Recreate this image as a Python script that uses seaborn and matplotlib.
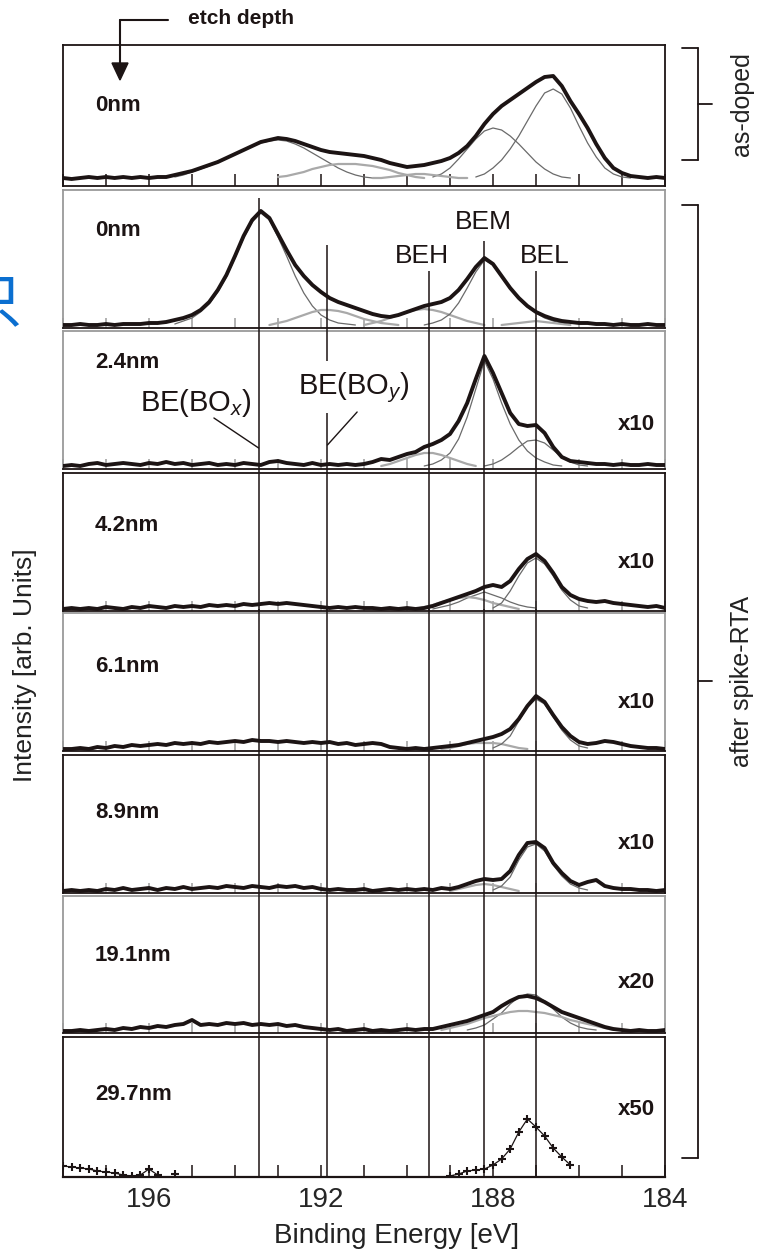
import numpy as np
import pandas as pd
import matplotlib
matplotlib.use("Agg")
import matplotlib.pyplot as plt
from matplotlib.lines import Line2D
from matplotlib.ticker import MultipleLocator
import seaborn as sns

W, H = 763, 1253
nan = np.nan

# binding-energy grid shared by the spectra, 198 -> 184 eV in 0.2 eV steps
energy = np.round(np.arange(198.0, 183.9, -0.2), 1)

depth_labels = ["0nm", "0nm", "2.4nm", "4.2nm", "6.1nm", "8.9nm", "19.1nm", "29.7nm"]
scale_labels = ["", "", "x10", "x10", "x10", "x10", "x20", "x50"]

# measured envelopes (intensity in panel units, one value per grid point)
spec_asdoped = [8, 7, 8, 9, 8, 9, 8, 9, 8, 9,
                8, 9, 9, 11, 13, 15, 18, 21, 24, 28,
                32, 36, 40, 44, 46, 48, 47, 45, 42, 39,
                36, 34, 33, 32, 31, 30, 28, 26, 23, 21,
                19, 20, 21, 23, 25, 28, 33, 40, 50, 62,
                72, 80, 86, 92, 98, 104, 109, 110, 100, 85,
                72, 58, 42, 28, 18, 13, 10, 9, 8, 9,
                8]
spec_0nm = [3, 3, 4, 3, 3, 4, 3, 4, 4, 4,
            5, 5, 6, 8, 10, 13, 18, 26, 38, 53,
            72, 92, 108, 117, 110, 94, 78, 63, 52, 43,
            36, 30, 26, 23, 20, 17, 14, 12, 11, 13,
            16, 19, 22, 24, 26, 30, 38, 49, 61, 70,
            64, 52, 40, 30, 22, 16, 12, 9, 7, 6,
            5, 5, 4, 4, 3, 4, 3, 3, 4, 3,
            3]
spec_2p4nm = [3, 4, 3, 5, 6, 4, 5, 6, 5, 4,
              6, 5, 7, 5, 6, 4, 5, 6, 4, 5,
              4, 6, 5, 4, 7, 8, 6, 5, 4, 6,
              4, 5, 4, 5, 4, 5, 7, 10, 9, 12,
              15, 17, 22, 25, 29, 35, 48, 66, 90, 113,
              96, 76, 56, 45, 43, 44, 36, 22, 12, 8,
              7, 6, 5, 5, 4, 5, 4, 4, 5, 4,
              4]
spec_4p2nm = [2, 3, 2, 3, 2, 4, 3, 2, 4, 3,
              5, 4, 3, 5, 4, 5, 4, 6, 5, 6,
              5, 7, 6, 7, 8, 7, 8, 7, 6, 5,
              4, 3, 4, 3, 4, 3, 3, 2, 3, 2,
              3, 2, 3, 5, 8, 11, 14, 17, 20, 24,
              26, 24, 30, 42, 52, 57, 50, 38, 24, 16,
              12, 10, 9, 10, 8, 7, 6, 5, 4, 5,
              3]
spec_6p1nm = [2, 2, 3, 2, 4, 3, 5, 4, 6, 5,
              6, 7, 6, 8, 7, 8, 7, 9, 8, 9,
              10, 9, 11, 10, 10, 9, 10, 9, 8, 9,
              8, 9, 7, 8, 6, 7, 8, 7, 4, 3,
              2, 3, 2, 3, 4, 5, 6, 8, 10, 12,
              14, 17, 22, 32, 45, 55, 49, 36, 24, 15,
              9, 7, 8, 10, 9, 7, 5, 4, 3, 3,
              2]
spec_8p9nm = [2, 3, 2, 3, 2, 4, 3, 5, 3, 4,
              5, 3, 5, 4, 6, 4, 5, 6, 5, 7,
              6, 5, 7, 6, 5, 7, 6, 7, 5, 6,
              4, 3, 4, 3, 3, 4, 2, 3, 4, 3,
              4, 3, 4, 3, 5, 4, 6, 9, 12, 14,
              13, 14, 22, 38, 50, 51, 45, 30, 20, 12,
              8, 11, 13, 7, 5, 4, 4, 3, 3, 2,
              3]
spec_19p1nm = [2, 2, 3, 2, 3, 4, 3, 5, 4, 6,
               5, 7, 6, 8, 9, 13, 8, 9, 8, 10,
               9, 10, 8, 9, 8, 9, 7, 8, 6, 5,
               4, 3, 4, 2, 3, 4, 2, 3, 2, 3,
               4, 3, 4, 4, 6, 8, 10, 12, 15, 18,
               21, 27, 32, 36, 37, 35, 31, 26, 21, 18,
               15, 12, 9, 6, 4, 3, 2, 3, 2, 2,
               3]
spec_29p7nm = [11, 10, 9, 8, 6, 5, 4, 2, 1, 2,
               8, 2, nan, 3, nan, nan, nan, nan, nan, nan,
               nan, nan, nan, nan, nan, nan, nan, nan, nan, nan,
               nan, nan, nan, nan, nan, nan, nan, nan, nan, nan,
               nan, nan, nan, nan, nan, 1, 3, 6, 7, 8,
               12, 18, 28, 45, 58, 50, 41, 29, 20, 12,
               nan, nan, nan, nan, nan, nan, nan, nan, nan, nan,
               nan]
spectra = [spec_asdoped, spec_0nm, spec_2p4nm, spec_4p2nm,
           spec_6p1nm, spec_8p9nm, spec_19p1nm, spec_29p7nm]

# fitted components: (first energy, values every 0.2 eV towards lower energy, shade)
fits = [
    [(188.4, [9, 12, 18, 26, 37, 50, 65, 80, 93, 97, 92, 78, 60, 43, 29, 18, 12, 9, 8], "dark"),
     (189.4, [9, 12, 18, 27, 37, 47, 55, 58, 56, 50, 42, 33, 24, 17, 12, 9, 8], "dark"),
     (195.4, [9, 11, 14, 17, 20, 24, 28, 32, 36, 40, 43, 45, 46, 45, 42, 38, 33, 28, 23, 18,
              14, 11, 9, 8], "dark"),
     (193.0, [9, 10, 12, 14, 17, 19, 21, 22, 22, 22, 21, 20, 18, 16, 13, 11, 9, 8], "light"),
     (190.8, [8, 8, 9, 10, 11, 12, 12, 11, 10, 9, 8, 8], "light")],
    [(195.4, [4, 7, 10, 16, 24, 36, 51, 70, 90, 106, 115, 108, 91, 72, 52, 35, 22, 13, 8, 5,
              4, 3], "dark"),
     (193.2, [3, 5, 7, 10, 13, 16, 18, 18, 17, 15, 12, 9, 7, 5, 4, 3], "light"),
     (191.0, [3, 5, 7, 10, 13, 16, 18, 19, 18, 16, 13, 10, 7, 5, 3], "light"),
     (189.6, [3, 5, 8, 14, 25, 40, 56, 68, 63, 51, 39, 29, 21, 15, 10, 7, 5, 3], "dark"),
     (187.8, [3, 4, 5, 6, 7, 6, 5, 4, 3], "light")],
    [(189.6, [3, 5, 9, 16, 30, 52, 80, 108, 90, 66, 45, 29, 18, 11, 7, 4, 3], "dark"),
     (188.2, [3, 5, 9, 15, 22, 28, 29, 26, 19, 12, 7, 4, 3], "dark"),
     (190.6, [3, 5, 8, 11, 14, 16, 16, 14, 11, 8, 5, 3], "light")],
    [(189.4, [2, 4, 6, 9, 13, 16, 19, 16, 13, 9, 6, 4, 3], "dark"),
     (189.8, [2, 4, 6, 9, 11, 13, 14, 13, 11, 8, 6, 4, 2], "light"),
     (188.0, [3, 8, 20, 35, 48, 53, 47, 35, 21, 11, 5, 3], "dark")],
    [(189.2, [2, 3, 5, 7, 8, 8, 8, 7, 5, 3, 2], "light"),
     (188.0, [3, 7, 15, 30, 44, 52, 47, 34, 21, 11, 5, 3], "dark")],
    [(189.0, [2, 4, 6, 8, 9, 8, 6, 4, 2], "light"),
     (188.0, [3, 7, 16, 33, 46, 49, 42, 28, 17, 9, 5, 3], "dark")],
    [(188.6, [3, 5, 8, 14, 20, 29, 36, 39, 38, 32, 24, 16, 10, 6, 4, 3], "dark"),
     (189.2, [3, 5, 7, 9, 12, 15, 17, 19, 21, 22, 22, 21, 20, 18, 16, 13, 11, 9, 7, 5,
              3], "light")],
    [],
]

peak_energy = [193.45, 191.85, 189.5, 188.2, 187.0]
peak_names = ["BE(BO$_x$)", "BE(BO$_y$)", "BEH", "BEM", "BEL"]

# layout in pixels of the reference
panel_px = [(45, 186), (190, 328), (331, 469), (473, 611),
            (613, 751), (755, 893), (896, 1033), (1037, 1177)]
label_y = [0.574, 0.71, 0.775, 0.623, 0.609, 0.58, 0.565, 0.586]
scale_y = [0, 0, 0.32, 0.355, 0.355, 0.36, 0.365, 0.48]
gray_frame = [1, 2, 4, 6]
line_tops_first = [130, 83, 57, 87, 57]
boy_gap = (56, 108)

INK = "#1c1414"
shade = {"dark": ("#6a6a6a", 0.9), "light": ("#a9a9a9", 1.6)}


def curve_frame(start, values):
    e = np.round(start - 0.2 * np.arange(len(values)), 1)
    df = pd.DataFrame({"energy": e, "counts": values})
    df["segment"] = df["counts"].isna().cumsum()
    return df.dropna()


def fx(px):
    return px / W


def fy(py):
    return 1 - py / H


sns.set_style("white")
plt.rcParams["font.family"] = ["Liberation Sans", "DejaVu Sans"]
plt.rcParams["mathtext.fontset"] = "custom"
plt.rcParams["mathtext.rm"] = "Liberation Sans"
plt.rcParams["mathtext.it"] = "Liberation Sans:italic"

fig = plt.figure(figsize=(W / 100, H / 100), dpi=100)

axes = []
last = len(panel_px) - 1
for i, (top, bottom) in enumerate(panel_px):
    hgt = bottom - top
    ax = fig.add_axes([fx(63), fy(bottom), (665 - 63) / W, hgt / H])
    axes.append(ax)

    for start, vals, tone in fits[i]:
        col, lw = shade[tone]
        sns.lineplot(data=curve_frame(start, vals), x="energy", y="counts",
                     units="segment", estimator=None, sort=False, ax=ax,
                     color=col, lw=lw, zorder=2)

    main = curve_frame(198.0, spectra[i])
    if i == last:
        sns.lineplot(data=main, x="energy", y="counts", units="segment",
                     estimator=None, sort=False, ax=ax, color=INK, lw=0.9,
                     zorder=3)
        sns.scatterplot(data=main, x="energy", y="counts", ax=ax, marker="+",
                        s=36, linewidth=1.5, color=INK, zorder=3)
    else:
        sns.lineplot(data=main, x="energy", y="counts", units="segment",
                     estimator=None, sort=False, ax=ax, color=INK, lw=2.8,
                     zorder=3)

    ax.set_xlim(198, 184)
    ax.set_ylim(0, hgt)
    ax.set_xlabel("")
    ax.set_ylabel("")
    ax.set_yticks([])
    ax.xaxis.set_major_locator(MultipleLocator(4))
    ax.xaxis.set_minor_locator(MultipleLocator(1))
    edge = i in (0, last)
    ax.tick_params(axis="x", which="both", direction="in",
                   length=8.5 if edge else 7, width=1.1,
                   color=INK if edge else "#9c9c9c",
                   bottom=True, top=False,
                   labelbottom=(i == last), labelsize=20, pad=7)
    for side, sp in ax.spines.items():
        sp.set_linewidth(1.3)
        sp.set_color("#9a9a9a" if (i in gray_frame and side != "bottom") else INK)
    if i == last:
        ax.spines["bottom"].set_linewidth(1.6)

    ax.text(0.053, label_y[i], depth_labels[i], transform=ax.transAxes,
            ha="left", va="center", fontsize=16, fontweight="bold", color=INK)
    if scale_labels[i]:
        ax.text(0.983, scale_y[i], scale_labels[i], transform=ax.transAxes,
                ha="right", va="center", fontsize=16, fontweight="bold", color=INK)

    # peak-position guide lines through the after-RTA panels
    if i >= 1:
        for j, e in enumerate(peak_energy):
            if i == 1:
                ax.vlines(e, 0, line_tops_first[j], color=INK, lw=1.1, clip_on=False, zorder=4)
            elif i == 2 and j == 1:
                ax.vlines(e, 0, boy_gap[0], color=INK, lw=1.1, clip_on=False, zorder=4)
                ax.vlines(e, boy_gap[1], hgt + 4, color=INK, lw=1.1, clip_on=False, zorder=4)
            else:
                ax.vlines(e, 0, hgt + 4, color=INK, lw=1.1, clip_on=False, zorder=4)

# peak names
ax2, ax3 = axes[1], axes[2]
ax2.text(188.22, 106, peak_names[3], ha="center", va="center", fontsize=19, color=INK)
ax2.text(189.65, 72, peak_names[2], ha="center", va="center", fontsize=19, color=INK)
ax2.text(186.79, 72, peak_names[4], ha="center", va="center", fontsize=19, color=INK)
ax3.text(194.9, 66, peak_names[0], ha="center", va="center", fontsize=21, color=INK)
ax3.text(191.23, 81, peak_names[1], ha="center", va="center", fontsize=21, color=INK)
ax3.plot([194.49, peak_energy[0]], [51, 21], color=INK, lw=1.0)
ax3.plot([191.16, peak_energy[1]], [57, 24], color=INK, lw=1.0)

# axis titles
fig.text(fx(397), fy(1236), "Binding Energy [eV]", ha="center", va="center",
         fontsize=20, color="#222222")
fig.text(fx(25), fy(665), "Intensity [arb. Units]", ha="center", va="center",
         rotation=90, fontsize=19, color="#222222")


# right-hand brackets
def bracket(top, bottom, label):
    mid = (top + bottom) / 2
    for xs, ys in [([682, 698], [top, top]), ([682, 698], [bottom, bottom]),
                   ([698, 698], [top, bottom]), ([698, 712], [mid, mid])]:
        fig.add_artist(Line2D([fx(x) for x in xs], [fy(y) for y in ys],
                              transform=fig.transFigure, color=INK, lw=1.3))
    fig.text(fx(742), fy(mid), label, ha="center", va="center", rotation=90,
             fontsize=18, color="#222222")


bracket(48, 160, "as-doped")
bracket(205, 1158, "after spike-RTA")

# etch depth arrow
fig.add_artist(Line2D([fx(168), fx(120)], [fy(20), fy(20)],
                      transform=fig.transFigure, color=INK, lw=1.5))
fig.add_artist(Line2D([fx(120), fx(120)], [fy(20), fy(66)],
                      transform=fig.transFigure, color=INK, lw=1.5))
fig.add_artist(matplotlib.patches.Polygon(
    [(fx(112), fy(63)), (fx(128), fy(63)), (fx(120), fy(80))],
    closed=True, transform=fig.transFigure, color=INK))
fig.text(fx(188), fy(18), "etch depth", ha="left", va="center",
         fontsize=15, fontweight="bold", color=INK)

# glyph cropped by the left edge of the source image
fig.text(fx(-8), fy(305), "只", ha="center", va="center", fontsize=42,
         color="#0b6fd0", family=["Noto Sans CJK SC", "DejaVu Sans"])

fig.savefig("out.png", dpi=100)
